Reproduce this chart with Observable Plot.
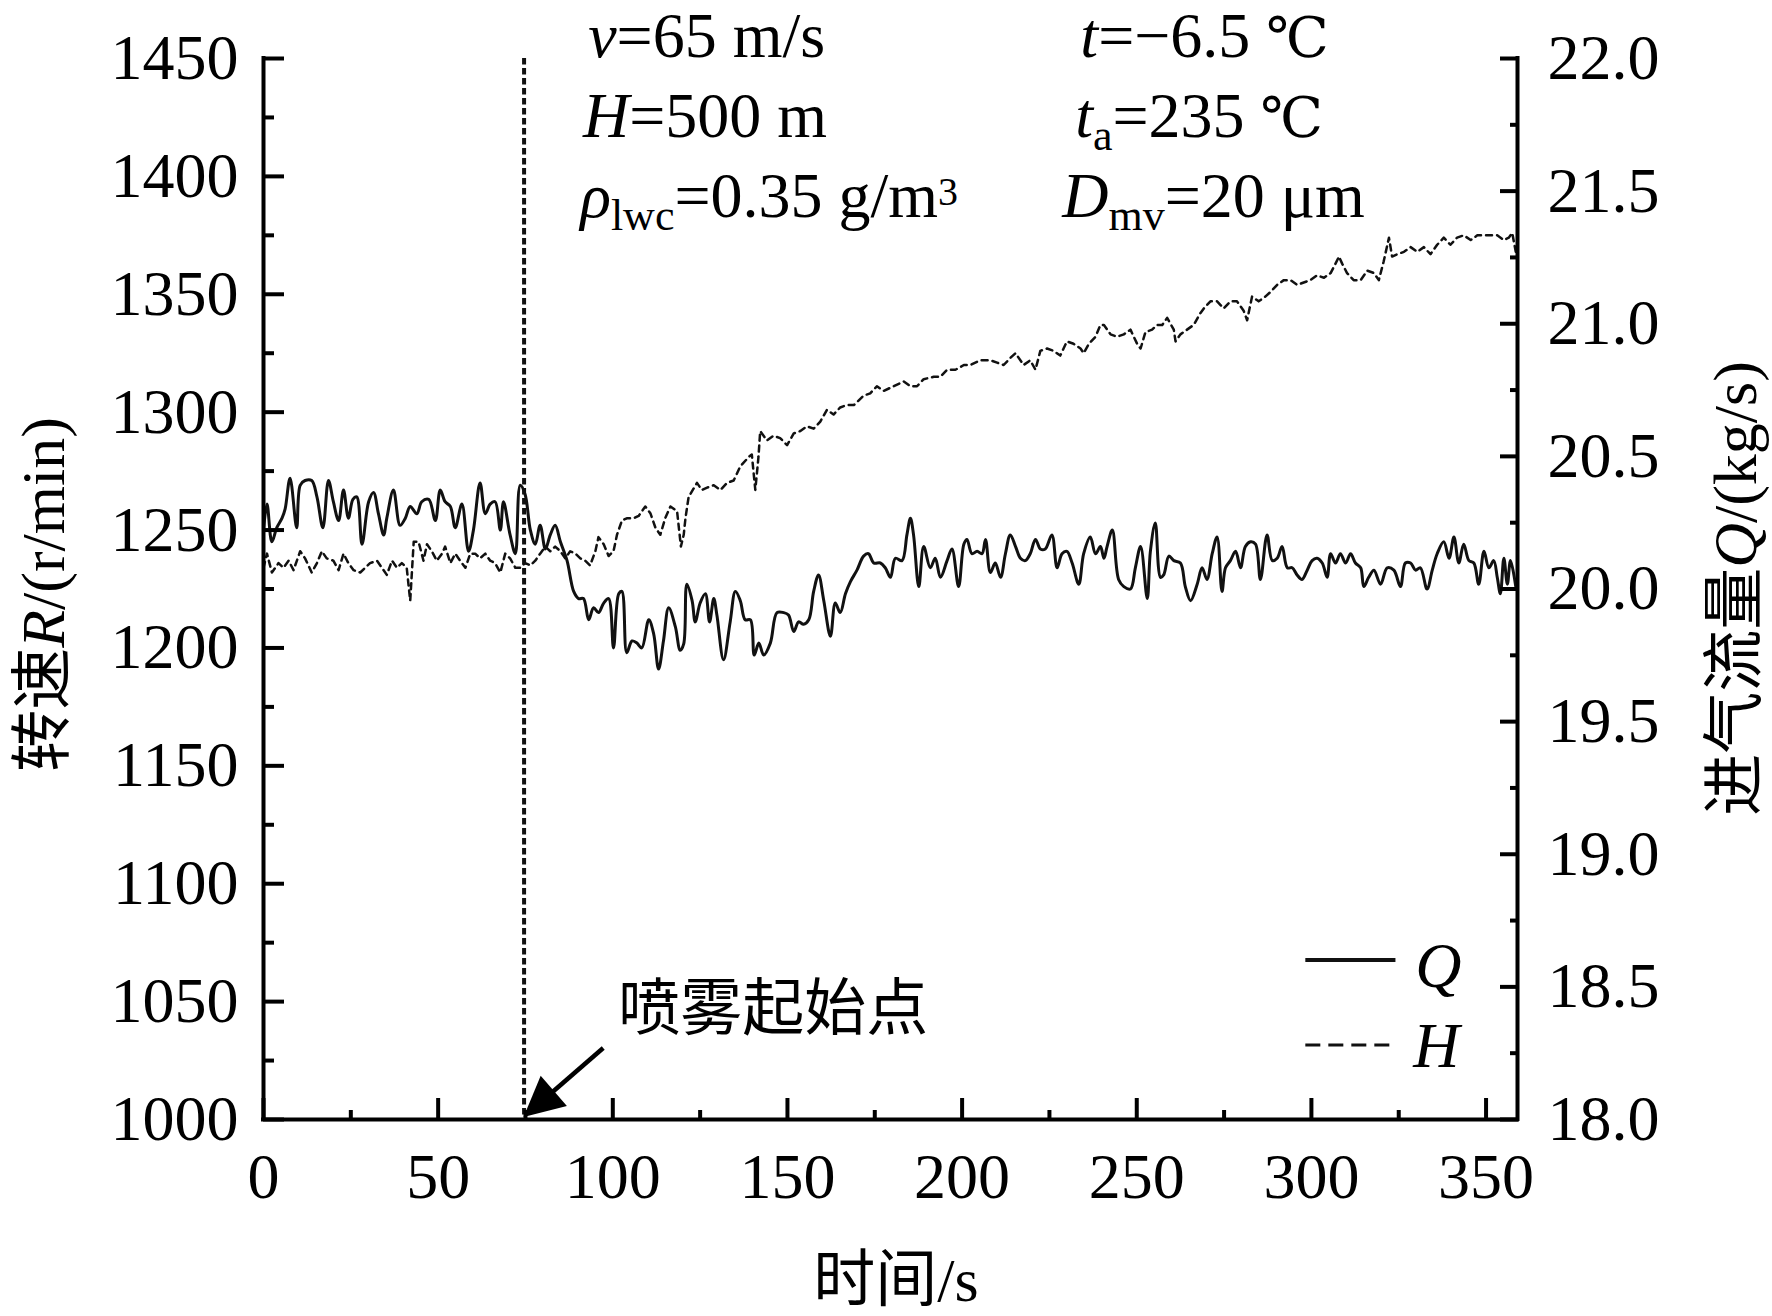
<!DOCTYPE html>
<html><head><meta charset="utf-8">
<script src="https://cdn.jsdelivr.net/npm/d3@7"></script>
<script src="https://cdn.jsdelivr.net/npm/@observablehq/plot@0.6"></script>
<style>html,body{margin:0;padding:0;background:#fff;}</style>
</head><body><div id="chart"></div>
<script>
// ---- data ----
// solid line: intake air flow Q (kg/s), right axis
const qTime = [
0,1.0,2.4,3.8,5.3,6.2,7.6,9.5,10.5,11.9,
13.8,15.3,17.0,18.6,20.0,21.5,22.9,24.3,25.6,26.7,
28.2,30.1,31.5,32.9,34.4,35.3,37.2,39.1,40.6,42.0,
43.9,45.3,47.3,49.2,50.6,52.0,53.5,54.9,56.8,58.7,
60.1,62.0,63.5,64.9,66.3,67.8,68.7,70.6,72.1,73.5,
74.9,76.4,77.8,79.2,80.7,82.1,83.5,85.0,86.9,88.8,
90.2,91.6,93.1,94.5,95.9,97.4,98.8,100.2,101.7,102.6,
104.0,105.5,106.9,108.3,110.3,111.7,113.1,114.5,116.0,117.9,
119.3,
120.3,121.2,122.7,123.6,125.0,126.5,127.7,128.9,129.8,131.7,
133.6,135.1,136.5,137.9,139.4,140.5,141.8,143.2,145.1,147.0,
148.9,150.3,151.8,153.2,154.6,156.1,157.5,158.9,160.4,162.3,
163.7,165.1,166.6,168.0,169.9,171.8,173.2,174.7,176.6,178.0,
179.5,180.9,182.8,184.2,185.2,186.1,187.6,189.0,190.9,192.3,
193.8,195.7,197.1,199.0,200.5,201.4,202.8,204.3,205.7,206.7,
208.1,209.5,211.0,212.4,213.8,215.3,216.7,218.1,219.5,221.0,
222.4,223.8,225.7,227.2,228.6,230.0,231.5,233.4,234.8,236.7,
238.2,239.6,
240.6,241.5,243.0,244.8,246.3,248.2,249.6,251.1,253.0,253.9,
255.3,256.8,257.7,259.2,260.6,262.5,263.9,265.4,267.3,268.7,
270.1,271.6,273.0,274.4,275.4,276.8,278.3,279.7,281.1,282.6,
284.0,285.4,287.3,288.8,290.2,291.6,293.1,294.5,295.9,297.3,
298.8,300.2,301.6,303.1,304.5,305.5,306.9,308.3,309.8,311.2,
312.6,314.1,315.0,316.4,317.9,319.8,321.7,323.6,325.5,326.9,
328.4,329.8,331.2,333.1,334.6,336.0,337.9,339.4,340.8,342.2,
343.6,345.1,346.5,347.9,349.4,350.8,352.2,353.2,354.1,355.1,
356.1,357.0,358.5
];
const qFlow = [
20.222,20.320,20.178,20.231,20.267,20.302,20.418,20.231,20.391,20.409,
20.409,20.347,20.231,20.409,20.329,20.258,20.373,20.267,20.338,20.347,
20.169,20.329,20.364,20.284,20.204,20.267,20.373,20.240,20.267,20.311,
20.284,20.329,20.338,20.258,20.373,20.329,20.311,20.231,20.320,20.142,
20.222,20.400,20.284,20.320,20.329,20.222,20.329,20.204,20.133,20.391,
20.356,20.222,20.169,20.240,20.151,20.204,20.240,20.178,20.107,19.991,
19.964,19.964,19.884,19.929,19.911,19.947,19.964,19.778,19.982,19.991,
19.760,19.804,19.796,19.778,19.884,19.831,19.698,19.804,19.929,19.858,
19.769,
19.793,20.018,19.956,19.876,19.947,19.982,19.876,19.964,19.902,19.733,
19.876,19.991,19.956,19.884,19.884,19.751,19.796,19.751,19.796,19.911,
19.911,19.902,19.840,19.876,19.867,19.884,19.991,20.053,19.956,19.822,
19.947,19.911,19.982,20.027,20.071,20.124,20.133,20.098,20.098,20.080,
20.044,20.116,20.107,20.204,20.267,20.204,20.009,20.160,20.080,20.116,
20.044,20.107,20.151,20.009,20.169,20.187,20.133,20.142,20.133,20.187,
20.062,20.098,20.044,20.133,20.204,20.160,20.116,20.107,20.133,20.187,
20.151,20.151,20.204,20.080,20.133,20.142,20.098,20.018,20.133,20.196,
20.133,20.160,
20.116,20.160,20.222,20.036,20.009,20.000,20.080,20.160,19.964,20.142,
20.249,20.044,20.053,20.124,20.107,20.098,20.009,19.956,20.018,20.080,
20.036,20.133,20.196,19.991,20.080,20.107,20.142,20.080,20.160,20.178,
20.169,20.036,20.204,20.107,20.116,20.160,20.080,20.080,20.053,20.036,
20.071,20.107,20.116,20.098,20.044,20.133,20.098,20.133,20.098,20.133,
20.098,20.080,20.009,20.044,20.071,20.018,20.080,20.071,20.009,20.098,
20.098,20.071,20.080,20.000,20.071,20.133,20.178,20.116,20.196,20.098,
20.169,20.107,20.098,20.018,20.142,20.080,20.107,20.044,19.982,20.116,
20.018,20.107,20.009
];
// dashed line: rotating speed R (r/min), left axis
const rTime = [
0,1.0,2.4,4.3,5.7,7.2,8.6,10.5,11.9,13.8,
15.3,16.7,18.1,20.0,21.5,22.9,24.3,25.8,27.7,29.1,
30.5,32.5,33.9,35.3,36.8,38.2,39.6,41.0,42.0,43.0,
44.4,45.8,46.8,48.2,49.6,51.1,52.0,53.5,54.9,56.3,
57.8,59.2,60.6,62.0,63.5,64.9,66.3,67.8,69.2,70.6,
72.1,73.5,74.9,76.4,77.8,79.2,80.7,82.1,83.5,85.0,
86.4,87.8,89.3,90.7,92.1,93.5,95.0,95.9,97.4,98.8,
100.2,101.2,102.6,104.0,106.0,107.4,109.3,110.8,112.2,113.6,
115.0,116.5,118.4,119.5,
120.3,120.8,121.7,124.1,125.5,127.0,128.9,130.8,132.7,134.6,
136.5,138.9,139.8,140.8,141.7,142.2,144.1,146.0,147.9,149.9,
151.8,153.7,155.6,157.5,159.4,161.3,163.2,165.1,167.0,169.0,
171.8,173.7,175.6,177.5,180.4,183.3,185.2,187.1,189.0,191.9,
193.8,195.7,198.1,200.5,202.4,205.2,208.1,210.0,211.9,213.8,
215.3,217.6,219.5,221.0,222.4,224.3,226.2,228.1,230.0,231.9,
233.9,234.8,236.3,238.2,239.6,
240.6,242.5,244.4,246.3,248.2,250.1,251.1,252.5,254.4,255.8,
257.3,258.7,260.6,261.1,262.5,264.4,266.3,268.2,269.2,271.1,
273.0,274.9,276.8,278.7,280.6,281.6,283.0,284.9,286.8,288.3,
290.2,292.1,294.0,295.9,297.8,299.7,301.6,303.6,305.5,306.9,
307.9,308.8,310.2,312.1,314.1,316.0,317.9,319.3,320.7,322.2,
323.1,324.6,326.5,328.4,330.3,332.2,334.1,336.0,337.9,339.8,
341.7,343.6,345.6,347.5,349.4,351.3,353.2,355.1,356.5,357.5,
358.5
];
const rSpeed = [
1234,1240,1232,1236,1234,1237,1233,1241,1238,1232,
1236,1241,1238,1237,1233,1240,1236,1233,1232,1234,
1236,1237,1234,1231,1237,1234,1236,1234,1220,1245,
1245,1237,1244,1241,1237,1240,1243,1236,1240,1237,
1234,1240,1240,1238,1240,1237,1236,1232,1240,1238,
1234,1234,1236,1235,1237,1240,1243,1241,1243,1241,
1238,1241,1240,1238,1237,1235,1241,1247,1244,1239,
1241,1248,1254,1255,1255,1256,1260,1257,1251,1248,
1255,1260,1258,1243,
1248,1255,1264,1270,1267,1268,1269,1267,1270,1271,
1277,1281,1282,1267,1281,1292,1288,1290,1289,1286,
1291,1292,1294,1293,1296,1301,1299,1302,1303,1303,
1307,1308,1311,1309,1311,1313,1311,1311,1314,1315,
1315,1318,1318,1320,1320,1322,1322,1321,1320,1323,
1325,1320,1322,1318,1326,1327,1326,1324,1330,1329,
1327,1325,1329,1332,1337,
1337,1333,1332,1333,1335,1329,1327,1334,1335,1337,
1337,1340,1335,1330,1333,1335,1337,1342,1344,1347,
1347,1344,1347,1347,1343,1339,1349,1347,1349,1351,
1354,1356,1356,1354,1355,1356,1358,1357,1359,1363,
1366,1363,1359,1356,1356,1360,1359,1356,1364,1374,
1366,1367,1368,1370,1368,1370,1367,1371,1374,1371,
1374,1375,1373,1375,1375,1375,1375,1373,1374,1376,
1368
];
const xTicks = [0,50,100,150,200,250,300,350];
const xMinorTicks = [25,75,125,175,225,275,325];
const leftTicks = [1000,1050,1100,1150,1200,1250,1300,1350,1400,1450];
const leftMinorTicks = [1025,1075,1125,1175,1225,1275,1325,1375,1425];
const rightTicks = [18.0,18.5,19.0,19.5,20.0,20.5,21.0,21.5,22.0];
const rightMinorTicks = [18.25,18.75,19.25,19.75,20.25,20.75,21.25,21.75];
const xDomain = [0, 359];
const leftDomain = [1000, 1450];
const rightDomain = [18, 22];
const sprayStart = 74.6;
const xTitle = ["时间", "/s"];
const leftTitle = ["转速", "R", "/(r/min)"];
const rightTitle = ["进气流量", "Q", "/(kg/s)"];
const sprayLabel = "喷雾起始点";
const legendLabels = ["Q", "H"];

// ---- dual-axis mapping (right axis Q onto left axis R) ----
const k = (leftDomain[1] - leftDomain[0]) / (rightDomain[1] - rightDomain[0]);
const qToR = q => leftDomain[0] + (q - rightDomain[0]) * k;
const rToQ = r => rightDomain[0] + (r - leftDomain[0]) / k;

const qData = qTime.map((t, i) => ({t, v: qToR(qFlow[i])}));
const rData = rTime.map((t, i) => ({t, v: rSpeed[i]}));

const serif = "'Liberation Serif','Times New Roman','Noto Sans CJK SC',serif";
const degFont = "'DejaVu Serif','DejaVu Sans','Noto Sans CJK SC',serif";
const AXW = 4;

const plot = Plot.plot({
  width: 1772, height: 1316,
  marginTop: 58, marginRight: 255, marginBottom: 197, marginLeft: 263,
  style: {fontFamily: serif, fontSize: "64px", background: "#fff", color: "#000", overflow: "visible"},
  x: {domain: xDomain, label: null},
  y: {domain: leftDomain, label: null},
  marks: [
    Plot.ruleX([sprayStart], {stroke: "#111", strokeWidth: 4, strokeDasharray: "6.5,3.5"}),
    Plot.line(rData, {x: "t", y: "v", stroke: "#111", strokeWidth: 2.5, strokeDasharray: "6,5"}),
    Plot.line(qData, {x: "t", y: "v", stroke: "#111", strokeWidth: 3, curve: "catmull-rom"}),
    Plot.axisX(xMinorTicks, {anchor: "bottom", tickSize: -9, strokeWidth: AXW, tickFormat: () => "", label: null}),
    Plot.axisX(xTicks, {anchor: "bottom", tickSize: -21, tickPadding: 21 + 33, strokeWidth: AXW, tickFormat: d => String(d), label: null}),
    Plot.axisY(leftMinorTicks, {anchor: "left", tickSize: -11, strokeWidth: AXW, tickFormat: () => "", label: null}),
    Plot.axisY(leftTicks, {anchor: "left", tickSize: -21, tickPadding: 21 + 25, strokeWidth: AXW, tickFormat: d => String(d), label: null}),
    Plot.axisY(rightMinorTicks.map(qToR), {anchor: "right", tickSize: -8, strokeWidth: AXW, tickFormat: () => "", label: null}),
    Plot.axisY(rightTicks.map(qToR), {anchor: "right", tickSize: -18, tickPadding: 18 + 30, strokeWidth: AXW, tickFormat: r => rToQ(r).toFixed(1), label: null}),
    Plot.ruleX([xDomain[0], xDomain[1]], {stroke: "#000", strokeWidth: AXW, strokeLinecap: "square"}),
    Plot.ruleY([leftDomain[0]], {stroke: "#000", strokeWidth: AXW, strokeLinecap: "square"})
  ]
});
document.getElementById("chart").appendChild(plot);

// ---- annotations (rich text with italics / sub / superscripts) ----
const sx = plot.scale("x"), sy = plot.scale("y");
const X = v => sx.apply(v), Y = v => sy.apply(v);
const svg = d3.select(plot);
const g = svg.append("g").attr("font-family", serif).attr("fill", "#000").attr("text-anchor", "start");

function rich(parent, parts, size, attrs) {
  const t = parent.append("text").attr("font-size", size);
  for (const [a, v] of Object.entries(attrs)) t.attr(a, v);
  let shift = 0;
  for (const p of parts) {
    const ts = t.append("tspan").text(p.s);
    if (p.i) ts.attr("font-style", "italic");
    if (p.deg) ts.attr("font-family", degFont).attr("font-size", 56);
    const target = p.sub ? 13 : p.sup ? -12 : 0;
    if (target !== shift) { ts.attr("dy", target - shift); shift = target; }
    if (p.sub) ts.attr("font-size", 44);
    if (p.sup) ts.attr("font-size", 40);
  }
  return t;
}

const notes = [
  {t: 93.1, r: 1450.3, parts: [{s: "v", i: 1}, {s: "=65 m/s"}]},
  {t: 91.6, r: 1416.3, parts: [{s: "H", i: 1}, {s: "=500 m"}]},
  {t: 90.8, r: 1382.4, parts: [{s: "ρ", i: 1}, {s: "lwc", sub: 1}, {s: "=0.35 g/m"}, {s: "3", sup: 1}]},
  {t: 234.0, r: 1450.3, parts: [{s: "t", i: 1}, {s: "=−6.5 "}, {s: "℃", deg: 1}]},
  {t: 232.5, r: 1416.3, parts: [{s: "t", i: 1}, {s: "a", sub: 1}, {s: "=235 "}, {s: "℃", deg: 1}]},
  {t: 228.8, r: 1382.4, parts: [{s: "D", i: 1}, {s: "mv", sub: 1}, {s: "=20 μm"}]}
];
for (const n of notes) rich(g, n.parts, 64, {x: X(n.t), y: Y(n.r)});

// spray start label and arrow
rich(g, [{s: sprayLabel}], 62, {x: X(101.7), y: Y(1046.6), "dominant-baseline": "central"});
{
  const x1 = X(97.4), y1 = Y(1030.1), x2 = X(sprayStart), y2 = Y(1000.8);
  const dx = x2 - x1, dy = y2 - y1, L = Math.hypot(dx, dy), ux = dx / L, uy = dy / L;
  const hl = 40, hw = 20;
  const bx = x2 - ux * hl, by = y2 - uy * hl;
  g.append("line").attr("x1", x1).attr("y1", y1).attr("x2", bx + ux * 4).attr("y2", by + uy * 4)
    .attr("stroke", "#000").attr("stroke-width", 4.5);
  g.append("path").attr("d", `M${x2},${y2}L${bx - uy * hw},${by + ux * hw}L${bx + uy * hw},${by - ux * hw}Z`).attr("fill", "#000");
}

// legend
g.append("line").attr("x1", X(298.4)).attr("x2", X(324.2)).attr("y1", Y(1067.4)).attr("y2", Y(1067.4))
  .attr("stroke", "#111").attr("stroke-width", 4);
g.append("line").attr("x1", X(298.4)).attr("x2", X(322.8)).attr("y1", Y(1031.4)).attr("y2", Y(1031.4))
  .attr("stroke", "#111").attr("stroke-width", 3).attr("stroke-dasharray", "15,8");
rich(g, [{s: legendLabels[0], i: 1}], 64, {x: X(329.9), y: Y(1056)});
rich(g, [{s: legendLabels[1], i: 1}], 64, {x: X(329.3), y: Y(1022)});

// axis titles
const midX = (X(xDomain[0]) + X(xDomain[1])) / 2;
const midY = (Y(leftDomain[0]) + Y(leftDomain[1])) / 2;
rich(g, [{s: xTitle[0]}, {s: xTitle[1]}], 62, {x: midX + 6, y: Y(leftDomain[0]) + 161, "text-anchor": "middle", "dominant-baseline": "central"});
rich(g, [{s: leftTitle[0]}, {s: leftTitle[1], i: 1}, {s: leftTitle[2]}], 62,
  {transform: `translate(43,${midY + 6}) rotate(-90)`, "text-anchor": "middle", "dominant-baseline": "central"});
rich(g, [{s: rightTitle[0]}, {s: rightTitle[1], i: 1}, {s: rightTitle[2]}], 62,
  {transform: `translate(${X(xDomain[1]) + 218},${midY}) rotate(-90)`, "text-anchor": "middle", "dominant-baseline": "central"});
</script>
</body></html>
